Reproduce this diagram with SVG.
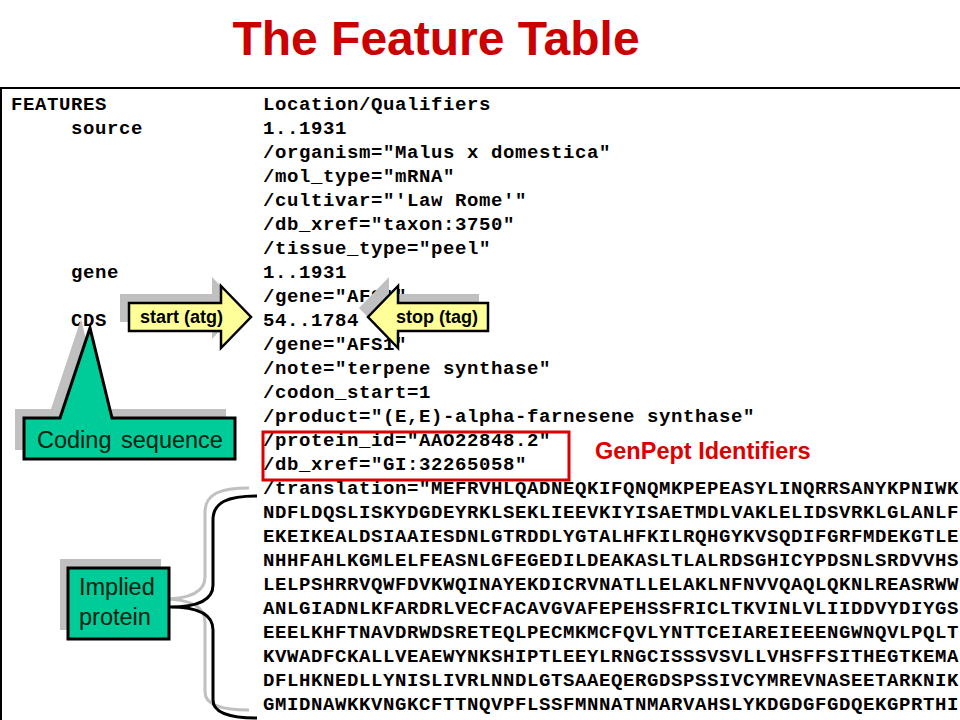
<svg xmlns="http://www.w3.org/2000/svg" width="960" height="720" viewBox="0 0 960 720">
<style>
.mono{font-family:"Liberation Mono","Courier New",monospace;font-weight:bold;font-size:19px;letter-spacing:0.6px;fill:#000}
.sans{font-family:"Liberation Sans",Arial,sans-serif}
.sh{fill:#C0C0C0;stroke:none}
.grn{fill:#00CC99;stroke:#000;stroke-width:3;stroke-linejoin:miter}
.yel{fill:#FFFF99;stroke:#000;stroke-width:2.5;stroke-linejoin:miter}
.lbl{font-family:"Liberation Sans",Arial,sans-serif;font-size:23.5px;fill:#002010}
.albl{font-family:"Liberation Sans",Arial,sans-serif;font-size:18px;font-weight:bold;fill:#000}
</style>
<rect width="960" height="720" fill="#fff"/>
<g id="title">
<text x="436" y="55" text-anchor="middle" class="sans" font-size="48" font-weight="bold" fill="#CC0000">The Feature Table</text>
</g>
<g id="frame" fill="none" stroke="#000" stroke-width="2">
<path d="M0,88 H960 M1,88 V720"/>
</g>
<g id="table" class="mono">
<text x="11" y="110">FEATURES</text>
<text x="263" y="110">Location/Qualifiers</text>
<text x="71" y="134">source</text>
<text x="263" y="134">1..1931</text>
<text x="263" y="158">/organism="Malus x domestica"</text>
<text x="263" y="182">/mol_type="mRNA"</text>
<text x="263" y="206">/cultivar="'Law Rome'"</text>
<text x="263" y="230">/db_xref="taxon:3750"</text>
<text x="263" y="254">/tissue_type="peel"</text>
<text x="71" y="278">gene</text>
<text x="263" y="278">1..1931</text>
<text x="263" y="302">/gene="AFS1"</text>
<text x="71" y="326">CDS</text>
<text x="263" y="326">54..1784</text>
<text x="263" y="350">/gene="AFS1"</text>
<text x="263" y="374">/note="terpene synthase"</text>
<text x="263" y="398">/codon_start=1</text>
<text x="263" y="422">/product="(E,E)-alpha-farnesene synthase"</text>
<text x="263" y="446">/protein_id="AAO22848.2"</text>
<text x="263" y="470">/db_xref="GI:32265058"</text>
<text x="263" y="494">/translation="MEFRVHLQADNEQKIFQNQMKPEPEASYLINQRRSANYKPNIWK</text>
<text x="263" y="518">NDFLDQSLISKYDGDEYRKLSEKLIEEVKIYISAETMDLVAKLELIDSVRKLGLANLF</text>
<text x="263" y="542">EKEIKEALDSIAAIESDNLGTRDDLYGTALHFKILRQHGYKVSQDIFGRFMDEKGTLE</text>
<text x="263" y="566">NHHFAHLKGMLELFEASNLGFEGEDILDEAKASLTLALRDSGHICYPDSNLSRDVVHS</text>
<text x="263" y="590">LELPSHRRVQWFDVKWQINAYEKDICRVNATLLELAKLNFNVVQAQLQKNLREASRWW</text>
<text x="263" y="614">ANLGIADNLKFARDRLVECFACAVGVAFEPEHSSFRICLTKVINLVLIIDDVYDIYGS</text>
<text x="263" y="638">EEELKHFTNAVDRWDSRETEQLPECMKMCFQVLYNTTCEIAREIEEENGWNQVLPQLT</text>
<text x="263" y="662">KVWADFCKALLVEAEWYNKSHIPTLEEYLRNGCISSSVSVLLVHSFFSITHEGTKEMA</text>
<text x="263" y="686">DFLHKNEDLLYNISLIVRLNNDLGTSAAEQERGDSPSSIVCYMREVNASEETARKNIK</text>
<text x="263" y="710">GMIDNAWKKVNGKCFTTNQVPFLSSFMNNATNMARVAHSLYKDGDGFGDQEKGPRTHI</text>
</g>
<g id="genpept">
<rect x="263" y="432" width="306" height="48" fill="none" stroke="#DD0000" stroke-width="3"/>
<text x="595" y="459" class="sans" font-size="23.5" font-weight="bold" fill="#DD0000">GenPept Identifiers</text>
</g>
<g id="connectors" fill="none" stroke-width="3">
<path id="brace-shadow" transform="translate(-8,-8)" stroke="#C0C0C0" d="M257,496 C228,496 213,502 213,520 L213,585 C213,600 198,607 170,607 C198,607 213,614 213,630 L213,700 C213,712 228,718 257,718"/>
<path id="brace" stroke="#000" d="M257,496 C228,496 213,502 213,520 L213,585 C213,600 198,607 170,607 C198,607 213,614 213,630 L213,700 C213,712 228,718 257,718"/>
</g>
<g id="implied-protein">
<rect class="sh" x="60" y="559" width="101" height="71"/>
<rect class="grn" x="68" y="568" width="101" height="71"/>
<text class="lbl" x="79" y="595">Implied</text>
<text class="lbl" x="79" y="625">protein</text>
</g>
<g id="start-arrow">
<polygon class="sh" transform="translate(-9,-9)" points="129,303 221,303 221,286 251,317 221,348 221,331 129,331"/>
<polygon class="yel" points="129,303 221,303 221,286 251,317 221,348 221,331 129,331"/>
<text class="albl" x="140" y="323">start (atg)</text>
</g>
<g id="stop-arrow">
<polygon class="sh" transform="translate(-9,-9)" points="488,303 398,303 398,286 368,317 398,348 398,331 488,331"/>
<polygon class="yel" points="488,303 398,303 398,286 368,317 398,348 398,331 488,331"/>
<text class="albl" x="396" y="323">stop (tag)</text>
</g>
<g id="coding-sequence">
<path class="sh" transform="translate(-9,-9)" d="M24,418 L60,418 L90,328 L112,418 L235,418 L235,459 L24,459 Z"/>
<path class="grn" d="M24,418 L60,418 L90,328 L112,418 L235,418 L235,459 L24,459 Z"/>
<text class="lbl" x="37" y="448" word-spacing="3">Coding sequence</text>
</g>
</svg>
